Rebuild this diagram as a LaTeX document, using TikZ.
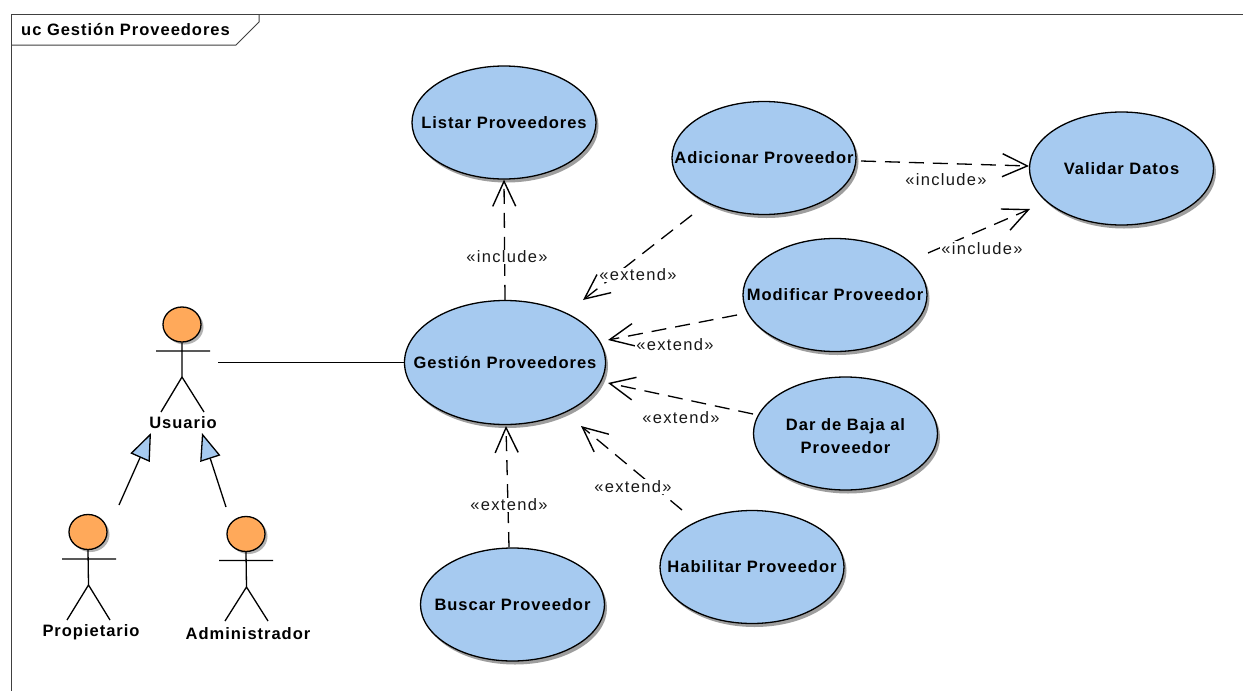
\documentclass[tikz,border=0pt]{standalone}
\usepackage{fontspec}
\setmainfont{Liberation Sans}[LetterSpace=8,BoldFeatures={LetterSpace=6}]
\usetikzlibrary{arrows.meta,shapes.geometric,shadows}
\definecolor{ucblue}{HTML}{A6CAF0}
\definecolor{actorfill}{HTML}{FFA95A}
\tikzset{
  usecase/.style={ellipse,draw=black,line width=1.3pt,fill=ucblue,inner xsep=-50pt,inner ysep=-20pt,
    minimum width=184pt,minimum height=113pt,align=center,font=\fontsize{16.5}{23}\selectfont\bfseries,
    general shadow={fill=black!38,shadow xshift=2.5pt,shadow yshift=-3.5pt}},
  head/.style={ellipse,draw=black,line width=1.3pt,fill=actorfill,inner sep=0pt,
    minimum width=38pt,minimum height=35pt,
    general shadow={fill=black!30,shadow xshift=2.5pt,shadow yshift=-2.5pt}},
  actorname/.style={font=\fontsize{16.5}{18}\selectfont\bfseries,inner sep=0pt},
  stereo/.style={font=\fontsize{16.5}{18}\selectfont,fill=white,inner sep=1pt,text=black!90},
  limb/.style={draw=black,line width=1.3pt},
  dep/.style={draw=black,line width=1.3pt,dash pattern=on 15pt off 9pt,
    -{Straight Barb[length=25pt,width=23pt,line width=1.4pt]}},
  gen/.style={draw=black,line width=1.3pt,
    -{Triangle[length=27pt,width=21pt,fill=ucblue,line width=1.3pt]}},
  frameline/.style={draw=black!75,line width=1pt},
}
\begin{document}
\begin{tikzpicture}[x=1pt,y=-1pt]
\useasboundingbox[fill=white] (0,0) rectangle (1243,691);
% frame
\coordinate (f0) at (11,691);
\coordinate (f1) at (11,14);
\coordinate (f2) at (1243,14);
\coordinate (t0) at (11,45);
\coordinate (t1) at (236,45);
\coordinate (t2) at (259,22);
\coordinate (t3) at (259,14);
\draw[frameline] (f0) -- (f1) -- (f2);
\draw[frameline] (t0) -- (t1) -- (t2) -- (t3);
\node[anchor=west,inner sep=0pt,font=\fontsize{16.5}{18}\selectfont\bfseries] (title) at (21,29.5) {uc Gestión Proveedores};
% use cases
\node[usecase] (listar) at (504,122.5) {Listar Proveedores};
\node[usecase] (adicionar) at (764,158) {Adicionar Proveedor};
\node[usecase] (validar) at (1121.5,168.5) {Validar Datos};
\node[usecase] (modificar) at (835,295) {Modificar Proveedor};
\node[usecase,minimum width=201pt,minimum height=124pt] (gestion) at (505,362.5) {Gestión Proveedores};
\node[usecase] (baja) at (845.5,433.5) {\rule{0pt}{17pt}Dar de Baja al\\Proveedor};
\node[usecase] (habilitar) at (752,567) {Habilitar Proveedor};
\node[usecase] (buscar) at (512.5,604.5) {Buscar Proveedor};
% actors
\node[head] (uhead) at (182,324.5) {};
\coordinate (uarmL) at (156,351);
\coordinate (uarmR) at (210,351);
\coordinate (uhip) at (182,377);
\coordinate (ulegL) at (161,412);
\coordinate (ulegR) at (204,412);
\draw[limb] (uhead.south) -- (uhip) (uarmL) -- (uarmR) (ulegL) -- (uhip) -- (ulegR);
\node[actorname] (usuario) at (183,423) {Usuario};
\node[head] (phead) at (88,532) {};
\coordinate (parmL) at (62,559);
\coordinate (parmR) at (116,559);
\coordinate (phip) at (88.5,585);
\coordinate (plegL) at (67,620);
\coordinate (plegR) at (110,620);
\draw[limb] (phead.south) -- (phip) (parmL) -- (parmR) (plegL) -- (phip) -- (plegR);
\node[actorname] (propietario) at (91,632) {Propietario};
\node[head] (ahead) at (246,534) {};
\coordinate (aarmL) at (219,560.5);
\coordinate (aarmR) at (273,560.5);
\coordinate (ahip) at (246.5,587);
\coordinate (alegL) at (225,621);
\coordinate (alegR) at (268,621);
\draw[limb] (ahead.south) -- (ahip) (aarmL) -- (aarmR) (alegL) -- (ahip) -- (alegR);
\node[actorname] (administrador) at (248,634) {Administrador};
% association
\coordinate (assoc0) at (218,362.5);
\draw[limb] (assoc0) -- (gestion.west);
% generalisations
\coordinate (g1s) at (119,505);
\coordinate (g1t) at (151,433);
\coordinate (g2s) at (226,507);
\coordinate (g2t) at (202,433);
\draw[gen] (g1s) -- (g1t);
\draw[gen] (g2s) -- (g2t);
% dependencies
\coordinate (d1s) at (692,215);
\coordinate (d1t) at (583,300);
\coordinate (d2s) at (737,315);
\coordinate (d2t) at (608,340);
\coordinate (d3s) at (753,414);
\coordinate (d3t) at (608,383);
\coordinate (d4s) at (682,510);
\coordinate (d4t) at (581,426);
\coordinate (d5s) at (509,547);
\coordinate (d5t) at (506,426);
\coordinate (d6s) at (861,161);
\coordinate (d6t) at (1029,166);
\coordinate (d7s) at (928,253);
\coordinate (d7t) at (1030,209);
\draw[dep] (gestion.north) -- (listar.south);
\draw[dep] (d1s) -- (d1t);
\draw[dep] (d2s) -- (d2t);
\draw[dep] (d3s) -- (d3t);
\draw[dep] (d4s) -- (d4t);
\draw[dep] (d5s) -- (d5t);
\draw[dep] (d6s) -- (d6t);
\draw[dep] (d7s) -- (d7t);
% labels
\node[stereo] (l0) at (507,257) {«include»};
\node[stereo] (l1) at (638,275) {«extend»};
\node[stereo] (l2) at (675,344.5) {«extend»};
\node[stereo] (l3) at (681,417.5) {«extend»};
\node[stereo] (l4) at (633,486.5) {«extend»};
\node[stereo] (l5) at (509,505) {«extend»};
\node[stereo] (l6) at (946,180) {«include»};
\node[stereo] (l7) at (982,248.5) {«include»};
\end{tikzpicture}
\end{document}
